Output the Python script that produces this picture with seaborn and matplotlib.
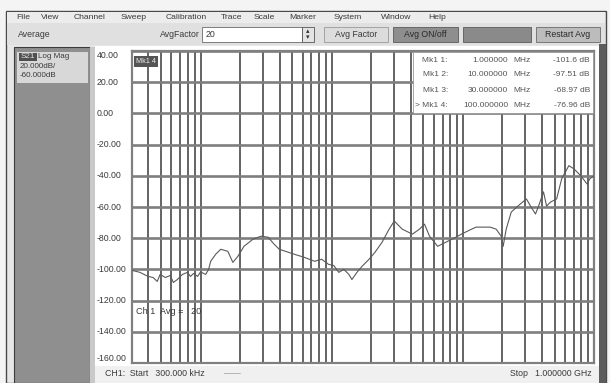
import numpy as np
import pandas as pd
import matplotlib
matplotlib.use('Agg')
import matplotlib.pyplot as plt
from matplotlib.patches import Rectangle
from matplotlib.ticker import NullLocator
import seaborn as sns

# ---------------- data ----------------
freq_mhz = [0.300, 0.345, 0.398, 0.435, 0.467, 0.492, 0.538, 0.588, 0.620, 0.665,
            0.727, 0.794, 0.838, 0.884, 0.948, 1.00, 1.093, 1.152, 1.194, 1.304,
            1.425, 1.613, 1.763, 1.926, 2.142, 2.512, 2.894, 3.277, 3.642, 3.981,
            4.667, 5.19, 6.2, 7.4, 8.38, 9.48, 10.36, 11.32, 12.37, 13.52,
            14.25, 15.57, 17.0, 19.26, 21.4, 24.2, 27.4, 30.0, 34.5, 41.2,
            46.7, 51.0, 55.7, 64.2, 74.0, 88.3, 100.0, 125.9, 161.4, 179.4,
            196, 203, 214, 234, 274, 305, 328, 358, 378, 412,
            435, 467, 519, 567, 643, 702, 794, 884, 930, 1000]
s21_db = [-100.6, -101.9, -104.5, -105.2, -107.7, -103.2, -105.2, -103.9, -108.4, -106.5,
          -103.2, -101.9, -104.5, -102.6, -104.5, -101.6, -103.2, -100.0, -94.8, -90.3,
          -87.1, -88.4, -95.5, -91.6, -85.2, -80.6, -78.7, -79.4, -83.9, -87.1,
          -89.0, -90.3, -92.3, -94.8, -93.5, -96.8, -97.5, -101.9, -100.0, -103.2,
          -106.5, -101.9, -98.1, -93.5, -89.0, -82.6, -74.2, -69.0, -74.2, -77.4,
          -74.2, -71.0, -78.7, -85.2, -82.6, -79.4, -76.9, -72.9, -72.9, -74.2,
          -78.7, -85.2, -74.2, -63.2, -58.1, -54.8, -59.4, -64.5, -59.4, -50.3,
          -59.4, -56.8, -54.8, -41.9, -33.5, -35.5, -40.0, -45.2, -41.9, -40.0]

y_ticks = [40, 20, 0, -20, -40, -60, -80, -100, -120, -140, -160]
y_tick_labels = ["40.00", "20.00", "0.00", "-20.00", "-40.00", "-60.00", "-80.00",
                 "-100.00", "-120.00", "-140.00", "-160.00"]

marker_names = ["Mk1 1:", "Mk1 2:", "Mk1 3:", "> Mk1 4:"]
marker_freqs = ["1.000000", "10.000000", "30.000000", "100.000000"]
marker_vals = ["-101.6 dB", "-97.51 dB", "-68.97 dB", "-76.96 dB"]

menu_items = ["File", "View", "Channel", "Sweep", "Calibration", "Trace", "Scale",
              "Marker", "System", "Window", "Help"]

start_hz, stop_hz = 300e3, 1e9

df = pd.DataFrame({"freq": np.array(freq_mhz) * 1e6, "db": s21_db})

# ---------------- figure ----------------
sns.set_theme(style="white")
plt.rcParams['font.family'] = ['Liberation Sans', 'DejaVu Sans']

W, H = 610, 383
fig = plt.figure(figsize=(6.1, 3.83), dpi=100)
fig.patch.set_facecolor('#f4f4f4')


def rect(x0, y0, x1, y1, fc, ec='none', lw=0.0, z=1):
    fig.add_artist(Rectangle((x0 / W, 1 - y1 / H), (x1 - x0) / W, (y1 - y0) / H,
                             transform=fig.transFigure, facecolor=fc,
                             edgecolor=ec, linewidth=lw, zorder=z))


def txt(x, y, s, size=6.0, color='#3a3a3a', ha='left', va='center', z=6, **kw):
    fig.text(x / W, 1 - y / H, s, fontsize=size, color=color, ha=ha, va=va,
             zorder=z, **kw)


# window frame
rect(6, 11, 606, 383, '#e6e6e6', ec='#4a4a4a', lw=1.0, z=0.5)
# menu bar
rect(7, 12, 605, 23, '#ececec', z=0.6)
menu_x = [16, 41, 74, 121, 166, 221, 254, 289, 334, 381, 428]
for mx, m in zip(menu_x, menu_items):
    txt(mx, 17.5, m, size=6.1)
# toolbar
rect(7, 23, 605, 45, '#e0e0e0', z=0.6)
txt(18, 34.5, "Average", size=6.3)
txt(200, 34.5, "AvgFactor", size=6.3, ha='right')
rect(202, 27, 302, 42, 'white', ec='#6a6a6a', lw=0.6)
txt(206, 34.5, "20", size=6.3)
rect(302, 27, 314, 42, '#e4e4e4', ec='#555555', lw=0.6)
txt(308, 31.5, "\u25b4", size=5, ha='center', color='#333333')
txt(308, 38, "\u25be", size=5, ha='center', color='#333333')
rect(324, 27, 388, 42, '#dcdcdc', ec='#9a9a9a', lw=0.6)
txt(356, 34.5, "Avg Factor", size=6.3, ha='center')
rect(393, 27, 458, 42, '#8e8e8e', ec='#5a5a5a', lw=0.6)
txt(425.5, 34.5, "Avg ON/off", size=6.3, ha='center', color='#2a2a2a')
rect(463, 27, 531, 42, '#8a8a8a', ec='#5a5a5a', lw=0.6)
rect(536, 27, 600, 42, '#bcbcbc', ec='#6a6a6a', lw=0.6)
txt(568, 34.5, "Restart Avg", size=6.3, ha='center', color='#2a2a2a')

# left trace panel
rect(14, 47, 90, 383, '#8f8f8f', ec='#3c3c3c', lw=0.8)
rect(17, 52, 88, 83, '#d8d8d8')
rect(19, 53, 37, 61, '#505050', z=2)
txt(20.5, 57, "S21", size=5.8, color='#e8e8e8')
txt(38, 57, "Log Mag", size=5.8)
txt(20, 66.5, "20.000dB/", size=5.8)
txt(20, 75.5, "-60.000dB", size=5.8)
rect(90, 47, 95, 383, '#c9c9c9')
# label column and status bar
rect(95, 46, 600, 368, 'white', z=0.8)
rect(95, 366, 600, 383, '#f0f0f0', z=0.8)
rect(599, 44, 606, 383, '#5c5c5c', z=1.5)

txt(105, 374, "CH1:  Start   300.000 kHz", size=6.3)
txt(224, 374, "\u2014\u2014", size=6.0, color='#777777')
txt(592, 374, "Stop   1.000000 GHz", size=6.3, ha='right')

# ---------------- plot axes ----------------
ax = fig.add_axes([132 / W, 1 - 363 / H, 462 / W, 312 / H], zorder=2)
ax.set_facecolor('white')
sns.lineplot(data=df, x="freq", y="db", ax=ax, color='#5a5a5a', lw=0.8,
             sort=False, zorder=5)
ax.set_xscale('log')
ax.set_xlim(start_hz, stop_hz)
ax.set_ylim(-160, 40)

grid_freqs = [m * 10.0 ** e for e in range(5, 9) for m in range(1, 10)
              if start_hz <= m * 10.0 ** e <= stop_hz] + [stop_hz]
ax.set_xticks(grid_freqs)
ax.xaxis.set_minor_locator(NullLocator())
ax.set_yticks(y_ticks)
ax.yaxis.set_minor_locator(NullLocator())
ax.tick_params(length=0, labelbottom=False, labelleft=False)
ax.grid(True, axis='x', color='#505050', lw=1.25)
ax.grid(True, axis='y', color='#7e7e7e', lw=1.9)
ax.set_xlabel('')
ax.set_ylabel('')
for sp in ax.spines.values():
    sp.set_color('#808080')
    sp.set_linewidth(1.6)

ytrans = ax.get_yaxis_transform()
for v, lab in zip(y_ticks, y_tick_labels):
    ax.text(-0.076, v, lab, transform=ytrans, ha='left',
            va='top' if v == 40 else ('bottom' if v == -160 else 'center'),
            fontsize=6.3, color='#3a3a3a', clip_on=False)

ax.text(0.008, 0.967, "Mk1 4", transform=ax.transAxes, fontsize=5.2,
        color='#eeeeee', va='center', ha='left',
        bbox=dict(boxstyle='square,pad=0.25', fc='#555555', ec='none'))
ax.text(0.008, -127, "Ch 1  Avg =   20", transform=ytrans, fontsize=6.6,
        color='#3a3a3a', va='center', ha='left')

# marker table
rect(413, 52, 593, 113, 'white', ec='#9a9a9a', lw=0.6, z=3)
rows_y = [60, 75, 90, 105.5]
for yy, nm, fq, vl in zip(rows_y, marker_names, marker_freqs, marker_vals):
    txt(448, yy, nm, size=6.0, ha='right', color='#555555')
    txt(508, yy, fq, size=6.0, ha='right', color='#555555')
    txt(513, yy, "MHz", size=6.0, color='#555555')
    txt(590, yy, vl, size=6.0, ha='right', color='#555555')

fig.savefig('out.png', dpi=100, facecolor=fig.get_facecolor())
